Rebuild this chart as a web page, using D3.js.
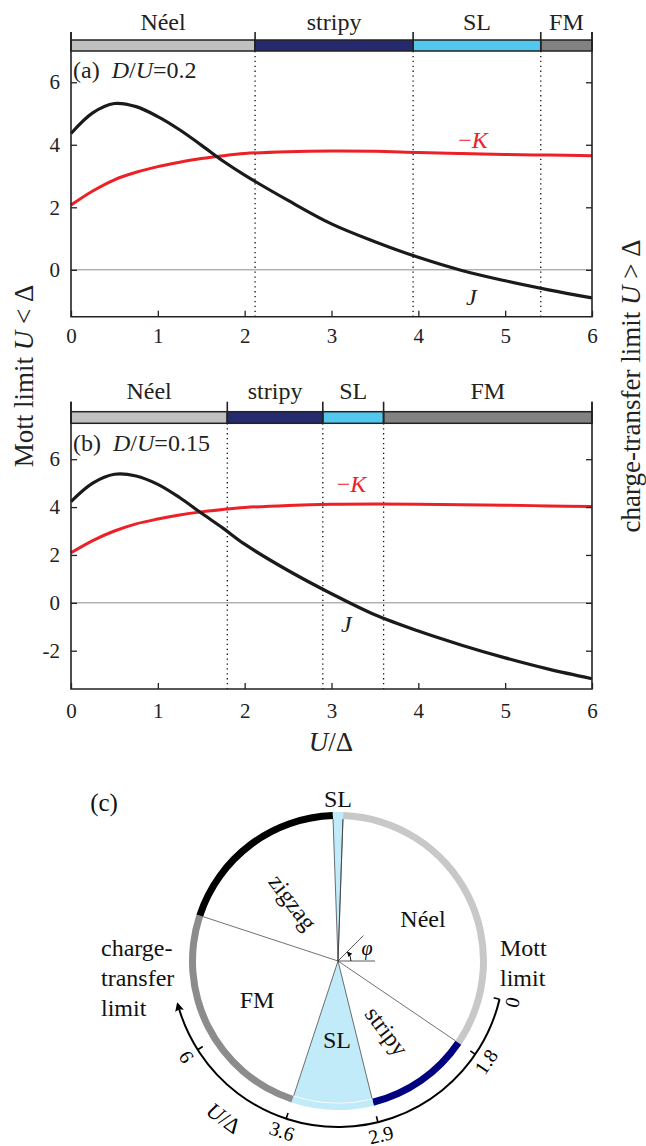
<!DOCTYPE html>
<html>
<meta charset="utf-8">
<title>Kitaev-Heisenberg couplings</title>
<style>
  body { margin: 0; background: #fff; }
  svg { display: block; }
  text { font-family: "Liberation Serif", "DejaVu Serif", serif; }
  .tick text { font-size: 21px; fill: #222; }
  .tick line { stroke: #222; stroke-width: 1.3; }
  .zero { stroke: #8c8c8c; stroke-width: 1; }
  .sep { stroke: #111; stroke-width: 1.3; stroke-dasharray: 1.3,3.6; }
  .frame { stroke: #222; stroke-width: 1.6; fill: none; }
</style>
<body>
<script src="https://d3js.org/d3.v7.min.js"></script>
<script>
// U/Delta sample points
var uvals = [0, 0.25, 0.5, 0.75, 1, 1.25, 1.5, 1.75, 2, 2.5, 3, 3.5, 4, 4.5, 5, 5.5, 6];

// panel (a), D/U = 0.2
var jA = [4.36, 5.02, 5.32, 5.22, 4.9, 4.48, 3.99, 3.48, 3.03, 2.22, 1.47, 0.9, 0.40, -0.02, -0.35, -0.64, -0.9];
var kA = [2.07, 2.52, 2.88, 3.12, 3.30, 3.44, 3.56, 3.65, 3.72, 3.78, 3.80, 3.79, 3.75, 3.72, 3.69, 3.67, 3.65];
// panel (b), D/U = 0.15
var jB = [4.23, 5.0, 5.37, 5.3, 4.95, 4.4, 3.75, 3.12, 2.45, 1.35, 0.38, -0.5, -1.18, -1.77, -2.3, -2.77, -3.17];
var kB = [2.09, 2.6, 3.0, 3.3, 3.5, 3.67, 3.8, 3.9, 3.98, 4.07, 4.12, 4.13, 4.12, 4.10, 4.08, 4.05, 4.02];

var phases = ["Néel", "stripy", "SL", "FM"];
var barColors = ["#c0c0c0", "#252a6e", "#52c8ee", "#828282"];
var boundsA = [0, 2.12, 3.94, 5.41, 6];
var boundsB = [0, 1.8, 2.9, 3.6, 6];

var xTicks = [0, 1, 2, 3, 4, 5, 6];
var yTicksA = [0, 2, 4, 6];
var yTicksB = [-2, 0, 2, 4, 6];

// panel (c): phase circle, angles phi in degrees (counter-clockwise from +x)
var ringPhases = ["Néel", "stripy", "SL", "FM", "zigzag", "SL"];
var ringBounds = [88, -34.2, -76.1, -108.2, -198.2, -268, -272];
var ringColors = ["#c8c8c8", "#000080", "#c2ebf9", "#8c8c8c", "#000000", "#c2ebf9"];
var uTickLabels = ["0", "1.8", "2.9", "3.6", "6"];
var uTickAngles = [-13.3, -34.2, -76.1, -108.2, -147.7];

var W = 646, H = 1146;
var svg = d3.select("body").append("svg").attr("width", W).attr("height", H);

var x = d3.scaleLinear().domain([0, 6]).range([71, 592]);

function drawPanel(o) {
  var g = svg.append("g");
  var y = d3.scaleLinear().domain(o.yDomain).range(o.yRange);
  var top = o.yRange[1], bot = o.yRange[0];

  // zero line
  g.append("line").attr("class", "zero")
    .attr("x1", x(0)).attr("x2", x(6)).attr("y1", y(0)).attr("y2", y(0));

  // dotted phase boundaries
  g.selectAll(".sep").data(o.bounds.slice(1, -1)).enter().append("line")
    .attr("class", "sep")
    .attr("x1", d => x(d)).attr("x2", d => x(d))
    .attr("y1", top).attr("y2", bot);

  // phase bar
  g.selectAll(".bar").data(phases).enter().append("rect")
    .attr("x", (d, i) => x(o.bounds[i]))
    .attr("width", (d, i) => x(o.bounds[i + 1]) - x(o.bounds[i]))
    .attr("y", o.barTop).attr("height", top - o.barTop)
    .attr("fill", (d, i) => barColors[i])
    .attr("stroke", "#222").attr("stroke-width", 1.5);
  g.selectAll(".btick").data(o.bounds).enter().append("line")
    .attr("x1", d => x(d)).attr("x2", d => x(d))
    .attr("y1", o.tickTop).attr("y2", top)
    .attr("stroke", "#222").attr("stroke-width", 1.6);
  g.selectAll(".blab").data(phases).enter().append("text")
    .attr("x", (d, i) => (x(o.bounds[i]) + x(o.bounds[i + 1])) / 2)
    .attr("y", o.phaseBase)
    .attr("text-anchor", "middle").style("font-size", "24px").attr("fill", "#222")
    .text(d => d);

  // curves
  var line = d3.line().x(d => x(d[0])).y(d => y(d[1])).curve(d3.curveCatmullRom.alpha(0.5));
  g.append("path").datum(d3.zip(uvals, o.K)).attr("d", line)
    .attr("fill", "none").attr("stroke", "#ec2027").attr("stroke-width", 3);
  g.append("path").datum(d3.zip(uvals, o.J)).attr("d", line)
    .attr("fill", "none").attr("stroke", "#1a1a1a").attr("stroke-width", 3.2);

  // axes
  g.append("g").attr("transform", "translate(" + x(0) + ",0)")
    .call(d3.axisLeft(y).tickValues(o.yTicks).tickSizeInner(-6).tickSizeOuter(0).tickPadding(11)
      .tickFormat(d => String(d)))
    .call(a => a.select(".domain").remove());
  g.append("g").attr("transform", "translate(" + x(6) + ",0)")
    .call(d3.axisRight(y).tickValues(o.yTicks).tickSizeInner(-6).tickSizeOuter(0).tickFormat(""))
    .call(a => a.select(".domain").remove());
  g.append("g").attr("transform", "translate(0," + bot + ")")
    .call(d3.axisBottom(x).tickValues(xTicks).tickSizeInner(-6).tickSizeOuter(0).tickPadding(o.xPad)
      .tickFormat(d => String(d)))
    .call(a => a.select(".domain").remove());
  g.append("path").attr("class", "frame")
    .attr("d", "M" + x(0) + "," + o.tickTop + "V" + bot + "H" + x(6) + "V" + o.tickTop);

  // panel label
  var t = g.append("text").attr("x", x(0) + 2).attr("y", o.labBase)
    .style("font-size", "24px").attr("fill", "#222");
  t.append("tspan").text(o.tag + "\u00a0\u00a0");
  t.append("tspan").style("font-style", "italic").text("D");
  t.append("tspan").text("/");
  t.append("tspan").style("font-style", "italic").text("U");
  t.append("tspan").text("=" + o.du);

  // curve labels
  var kl = g.append("text").attr("x", x(o.kLab[0])).attr("y", y(o.kLab[1]))
    .attr("text-anchor", "middle").attr("dy", "0.35em")
    .style("font-size", "24px").attr("fill", "#ec2027");
  kl.append("tspan").text("\u2212");
  kl.append("tspan").style("font-style", "italic").text("K");
  g.append("text").attr("x", x(o.jLab[0])).attr("y", y(o.jLab[1]))
    .attr("text-anchor", "middle").attr("dy", "0.35em")
    .style("font-size", "24px").style("font-style", "italic").attr("fill", "#222")
    .text("J");
}

drawPanel({ yDomain: [-1.5, 7], yRange: [316.7, 51], barTop: 40, tickTop: 32,
  bounds: boundsA, J: jA, K: kA, yTicks: yTicksA, xPad: 11.5,
  phaseBase: 30, labBase: 78, tag: "(a)", du: "0.2",
  kLab: [4.63, 4.16], jLab: [4.61, -0.86] });

drawPanel({ yDomain: [-3.6, 7.5], yRange: [689, 423.3], barTop: 411.7, tickTop: 401.7,
  bounds: boundsB, J: jB, K: kB, yTicks: yTicksB, xPad: 14,
  phaseBase: 399, labBase: 451, tag: "(b)", du: "0.15",
  kLab: [3.23, 4.99], jLab: [3.17, -0.88] });

// axis titles
var lt = svg.append("text").attr("transform", "translate(33,376) rotate(-90)")
  .attr("text-anchor", "middle").style("font-size", "27px").attr("fill", "#222");
lt.append("tspan").text("Mott limit ");
lt.append("tspan").style("font-style", "italic").text("U");
lt.append("tspan").text(" < \u0394");

var rt = svg.append("text").attr("transform", "translate(640,386) rotate(-90)")
  .attr("text-anchor", "middle").style("font-size", "27px").attr("fill", "#222");
rt.append("tspan").text("charge-transfer limit ");
rt.append("tspan").style("font-style", "italic").text("U");
rt.append("tspan").text(" > \u0394");

var xt = svg.append("text").attr("x", 331).attr("y", 751)
  .attr("text-anchor", "middle").style("font-size", "27px").attr("fill", "#222");
xt.append("tspan").style("font-style", "italic").text("U");
xt.append("tspan").text("/\u0394");

// ---------- panel (c) ----------
var cx = 338, cy = 961, rIn = 142, rOut = 149, rAx = 166;
var rad = a => a * Math.PI / 180;
var d3a = phi => rad(90 - phi);   // d3.arc angle from phi
var px = (phi, r) => cx + r * Math.cos(rad(phi));
var py = (phi, r) => cy - r * Math.sin(rad(phi));

var gc = svg.append("g");
var defs = svg.append("defs");
defs.append("marker").attr("id", "arr").attr("viewBox", "0 0 10 10")
  .attr("refX", 8).attr("refY", 5).attr("markerWidth", 12).attr("markerHeight", 9)
  .attr("markerUnits", "userSpaceOnUse").attr("orient", "auto")
  .append("path").attr("d", "M0,0L10,5L0,10L2,5Z").attr("fill", "#000");
defs.append("marker").attr("id", "arrs").attr("viewBox", "0 0 10 10")
  .attr("refX", 8).attr("refY", 5).attr("markerWidth", 6).attr("markerHeight", 5)
  .attr("markerUnits", "userSpaceOnUse").attr("orient", "auto")
  .append("path").attr("d", "M0,0L10,5L0,10Z").attr("fill", "#000");

var segs = ringPhases.map((p, i) => ({ name: p, a0: ringBounds[i], a1: ringBounds[i + 1], c: ringColors[i] }));

// SL sector fills
gc.selectAll(".fill").data(segs.filter(s => s.name === "SL")).enter().append("path")
  .attr("transform", "translate(" + cx + "," + cy + ")")
  .attr("d", s => d3.arc().innerRadius(0).outerRadius(rIn).startAngle(d3a(s.a0)).endAngle(d3a(s.a1))())
  .attr("fill", s => s.c);

// radial boundary lines
gc.selectAll(".rl").data(ringBounds).enter().append("line")
  .attr("x1", cx).attr("y1", cy)
  .attr("x2", d => px(d, rIn)).attr("y2", d => py(d, rIn))
  .attr("stroke", "#333").attr("stroke-width", 0.7);

// ring segments
gc.selectAll(".ring").data(segs).enter().append("path")
  .attr("transform", "translate(" + cx + "," + cy + ")")
  .attr("d", s => d3.arc().innerRadius(rIn).outerRadius(rOut).startAngle(d3a(s.a0)).endAngle(d3a(s.a1))())
  .attr("fill", s => s.c);
gc.append("path").attr("transform", "translate(" + cx + "," + cy + ")")
  .attr("d", d3.arc().innerRadius(rIn - 0.4).outerRadius(rIn + 0.4).startAngle(d3a(-76.1)).endAngle(d3a(-108.2))())
  .attr("fill", "#fff");

// phi indicator
gc.append("line").attr("x1", cx).attr("y1", cy).attr("x2", px(0, 37)).attr("y2", py(0, 37))
  .attr("stroke", "#333").attr("stroke-width", 0.8);
gc.append("line").attr("x1", cx).attr("y1", cy).attr("x2", px(45, 36)).attr("y2", py(45, 36))
  .attr("stroke", "#333").attr("stroke-width", 0.8);
var pp = d3.path();
pp.moveTo(px(0, 13), py(0, 13));
pp.arc(cx, cy, 13, 0, -rad(42), true);
gc.append("path").attr("d", pp.toString()).attr("fill", "none")
  .attr("stroke", "#000").attr("stroke-width", 0.9).attr("marker-end", "url(#arrs)");
gc.append("text").attr("x", 367).attr("y", 955).style("font-size", "20px")
  .style("font-style", "italic").attr("text-anchor", "middle").text("\u03c6");

// U/Delta axis around the circle
var ap = d3.path();
ap.moveTo(px(uTickAngles[0], rAx), py(uTickAngles[0], rAx));
ap.arc(cx, cy, rAx, -rad(uTickAngles[0]), -rad(-165), false);
gc.append("path").attr("d", ap.toString()).attr("fill", "none")
  .attr("stroke", "#000").attr("stroke-width", 2).attr("marker-end", "url(#arr)");
gc.selectAll(".ut").data(uTickAngles).enter().append("line")
  .attr("x1", d => px(d, rAx)).attr("y1", d => py(d, rAx))
  .attr("x2", d => px(d, rAx - 6)).attr("y2", d => py(d, rAx - 6))
  .attr("stroke", "#000").attr("stroke-width", 1.6);
gc.selectAll(".ul").data(uTickAngles).enter().append("text")
  .attr("transform", d => "translate(" + px(d, 179) + "," + py(d, 179) + ") rotate(" + (-d - 90) + ")")
  .attr("text-anchor", "middle").attr("dy", "0.35em").style("font-size", "20px")
  .text((d, i) => uTickLabels[i]);
var ul = gc.append("text")
  .attr("transform", "translate(" + px(-126, 194) + "," + py(-126, 194) + ") rotate(36)")
  .attr("text-anchor", "middle").attr("dy", "0.35em").style("font-size", "22px");
ul.append("tspan").style("font-style", "italic").text("U");
ul.append("tspan").text("/\u0394");

// labels in circle
function lab(t, xx, yy, rot, size) {
  gc.append("text").attr("transform", "translate(" + xx + "," + yy + ") rotate(" + (rot || 0) + ")")
    .attr("text-anchor", "middle").attr("dy", "0.35em")
    .style("font-size", (size || 24) + "px").attr("fill", "#111").text(t);
}
lab("SL", 338, 799);
lab("Néel", 423, 919);
lab("FM", 257, 1000);
lab("SL", 337, 1040);
lab("zigzag", 293, 902, 53);
lab("stripy", 387, 1031, 53);
lab("(c)", 104, 802, 0, 25);

function block(lines, xx, y0) {
  lines.forEach((t, i) => gc.append("text").attr("x", xx).attr("y", y0 + i * 30)
    .attr("dy", "0.35em").style("font-size", "24px").attr("fill", "#111").text(t));
}
block(["Mott", "limit"], 500, 948);
block(["charge-", "transfer", "limit"], 101, 948);
</script>
</body>
</html>
